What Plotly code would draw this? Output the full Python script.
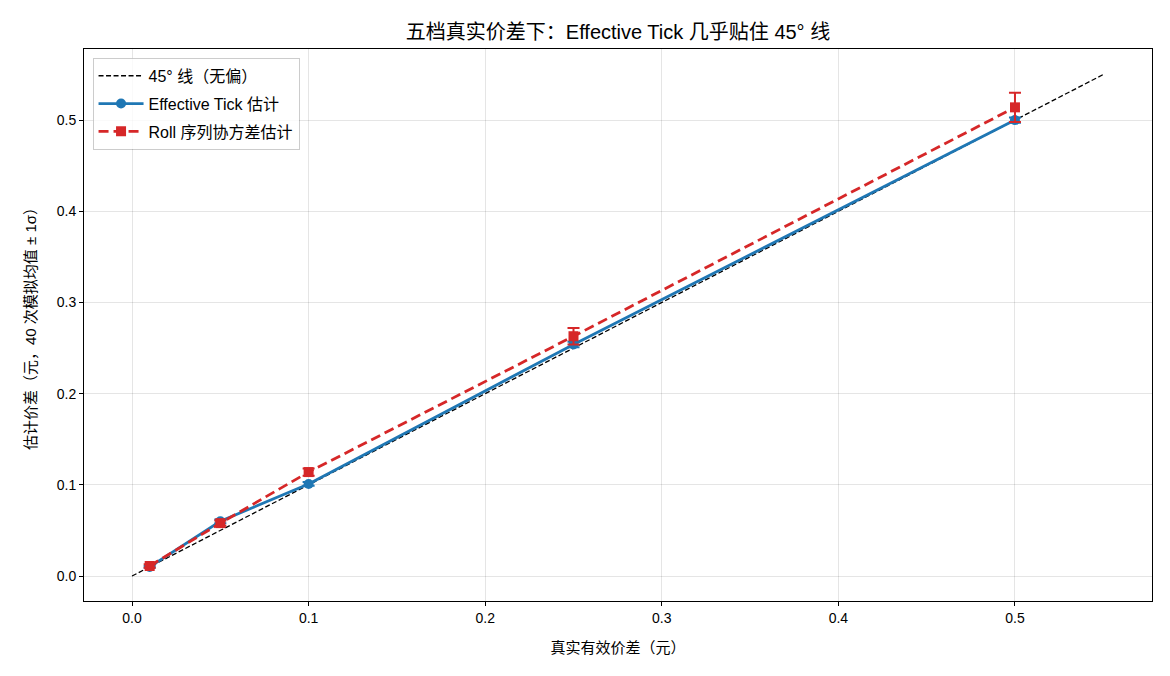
import plotly.graph_objects as go

true_spread = [0.01, 0.05, 0.10, 0.25, 0.50]
et_mean = [0.010, 0.060, 0.101, 0.254, 0.500]
et_std = [0.001, 0.002, 0.002, 0.003, 0.003]
roll_mean = [0.011, 0.058, 0.114, 0.263, 0.514]
roll_std = [0.002, 0.003, 0.004, 0.009, 0.016]
diag_x = [0.0, 0.55]

FONT = "Liberation Sans, Noto Sans CJK SC, sans-serif"

fig = go.Figure()
fig.add_trace(go.Scatter(
    x=diag_x, y=diag_x, mode="lines", name="45° 线（无偏）", legendgroup="a",
    line=dict(color="black", width=1.3, dash="5px,2.5px")))
fig.add_trace(go.Scatter(
    x=true_spread, y=et_mean, mode="lines+markers", name="Effective Tick 估计", legendgroup="b",
    line=dict(color="#1f77b4", width=2.8),
    marker=dict(symbol="circle", size=10, color="#1f77b4"),
    error_y=dict(type="data", array=et_std, visible=True, color="#1f77b4", thickness=2, width=6)))
fig.add_trace(go.Scatter(
    x=true_spread, y=roll_mean, mode="lines+markers", name="Roll 序列协方差估计", legendgroup="c",
    line=dict(color="#d62728", width=2.8, dash="10px,5px"),
    marker=dict(symbol="square", size=10, color="#d62728"),
    error_y=dict(type="data", array=roll_std, visible=True, color="#d62728", thickness=2, width=6)))

axis_common = dict(
    showline=True, linecolor="black", linewidth=1, mirror=True,
    ticks="outside", ticklen=4, tickcolor="black",
    showgrid=True, gridcolor="rgba(0,0,0,0.1)", gridwidth=1,
    zeroline=False, tickfont=dict(size=14, color="black"),
)
fig.update_xaxes(range=[-0.0272, 0.5776], tickvals=[0, 0.1, 0.2, 0.3, 0.4, 0.5],
                 ticktext=["0.0", "0.1", "0.2", "0.3", "0.4", "0.5"],
                 title=dict(text="真实有效价差（元）", font=dict(size=15), standoff=17), **axis_common)
fig.update_yaxes(range=[-0.0274, 0.578], tickvals=[0, 0.1, 0.2, 0.3, 0.4, 0.5],
                 ticktext=["0.0", "0.1", "0.2", "0.3", "0.4", "0.5"],
                 title=dict(text="估计价差（元，40 次模拟均值 ± 1σ）", font=dict(size=15), standoff=16), **axis_common)

fig.update_layout(
    width=1170, height=676,
    margin=dict(l=84, r=18, t=49, b=75),
    paper_bgcolor="white", plot_bgcolor="white",
    font=dict(family=FONT, size=14, color="black"),
    title=dict(text="五档真实价差下：Effective Tick 几乎贴住 45° 线", xref="paper", x=0.5, xanchor="center",
               y=0.953, yanchor="middle", font=dict(size=20)),
    legend=dict(x=0.008, y=0.984, xanchor="left", yanchor="top",
                bordercolor="rgba(0,0,0,0.2)", borderwidth=1, bgcolor="rgba(255,255,255,0.8)",
                font=dict(size=16), tracegroupgap=4, itemwidth=45),
    showlegend=True,
)
fig.write_html("out.html")
